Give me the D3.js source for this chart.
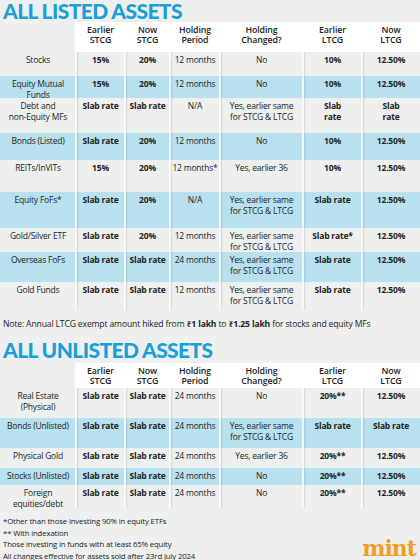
<!DOCTYPE html>
<html>
<head>
<meta charset="utf-8">
<script src="https://cdn.jsdelivr.net/npm/d3@7"></script>
<style>
  body { margin: 0; background: #eef0ef; }
  svg { display: block; font-family: "Open Sans", "Noto Sans", sans-serif; }
</style>
</head>
<body>
<div id="chart"></div>
<script>
// Column headers
const columns = ["Earlier\nSTCG", "Now\nSTCG", "Holding\nPeriod", "Holding\nChanged?", "Earlier\nLTCG", "Now\nLTCG"];
const boldColumns = [true, true, false, false, true, true];

// Listed assets
const listedAssets = ["Stocks", "Equity Mutual\nFunds", "Debt and\nnon-Equity MFs", "Bonds (Listed)", "REITs/InVITs",
  "Equity FoFs*", "Gold/Silver ETF", "Overseas FoFs", "Gold Funds"];
const listedEarlierSTCG = ["15%", "15%", "Slab rate", "Slab rate", "15%", "Slab rate", "Slab rate", "Slab rate", "Slab rate"];
const listedNowSTCG = ["20%", "20%", "Slab rate", "20%", "20%", "20%", "20%", "Slab rate", "Slab rate"];
const listedHolding = ["12 months", "12 months", "N/A", "12 months", "12 months*", "N/A", "12 months", "24 months", "12 months"];
const listedChanged = ["No", "No", "Yes, earlier same\nfor STCG & LTCG", "No", "Yes, earlier 36",
  "Yes, earlier same\nfor STCG & LTCG", "Yes, earlier same\nfor STCG & LTCG", "Yes, earlier same\nfor STCG & LTCG", "Yes, earlier same\nfor STCG & LTCG"];
const listedEarlierLTCG = ["10%", "10%", "Slab\nrate", "10%", "10%", "Slab rate", "Slab rate*", "Slab rate", "Slab rate"];
const listedNowLTCG = ["12.50%", "12.50%", "Slab\nrate", "12.50%", "12.50%", "12.50%", "12.50%", "12.50%", "12.50%"];

// Unlisted assets
const unlistedAssets = ["Real Estate\n(Physical)", "Bonds (Unlisted)", "Physical Gold", "Stocks (Unlisted)", "Foreign\nequities/debt"];
const unlistedEarlierSTCG = ["Slab rate", "Slab rate", "Slab rate", "Slab rate", "Slab rate"];
const unlistedNowSTCG = ["Slab rate", "Slab rate", "Slab rate", "Slab rate", "Slab rate"];
const unlistedHolding = ["24 months", "24 months", "24 months", "24 months", "24 months"];
const unlistedChanged = ["No", "Yes, earlier same\nfor STCG & LTCG", "Yes, earlier 36", "No", "No"];
const unlistedEarlierLTCG = ["20%**", "Slab rate", "20%**", "20%**", "20%**"];
const unlistedNowLTCG = ["12.50%", "Slab rate", "12.50%", "12.50%", "12.50%"];

const footnotes = ["*Other than those investing 90% in equity ETFs", "** With indexation",
  "Those investing in funds with at least 65% equity", "All changes effective for assets sold after 23rd July 2024"];

// Layout
const W = 420, H = 560;
const colEdges = [0, 76, 125, 170, 220, 303, 362, 420];
const listedRowEdges = [52, 76, 98, 133, 160, 192, 228, 252, 282, 310];
const unlistedRowEdges = [388, 418, 448, 468, 485, 508];
const blue = "#b8e0ee", titleBlue = "#1b9fd9", ink = "#222";

const x = d3.scaleOrdinal().domain(d3.range(7)).range(colEdges.slice(0, 7));
const xEnd = d3.scaleOrdinal().domain(d3.range(7)).range(colEdges.slice(1));
const cx = i => (x(i) + xEnd(i)) / 2;

const svg = d3.select("#chart").append("svg").attr("width", W).attr("height", H);
svg.append("rect").attr("width", W).attr("height", H).attr("fill", "#eef0ef");

function multiline(g, str, px, py, opts) {
  const t = g.append("text").attr("x", px).attr("y", py).attr("text-anchor", "middle")
    .attr("font-size", opts.size || 8.3).attr("font-weight", opts.weight || (opts.bold ? 700 : 400))
    .attr("fill", ink).attr("letter-spacing", opts.ls || -0.2);
  str.split("\n").forEach((s, k) => t.append("tspan").attr("x", px).attr("dy", k ? (opts.lh || 10.5) : 0).text(s));
}

function drawTable(top, headerBottom, rowEdges, labels, cols) {
  const g = svg.append("g");
  const bottom = rowEdges[rowEdges.length - 1];
  g.append("rect").attr("x", colEdges[1]).attr("y", top).attr("width", W - colEdges[1])
    .attr("height", headerBottom - top).attr("fill", "#fff");
  labels.forEach((_, r) => {
    if (r % 2 === 1) g.append("rect").attr("x", 0).attr("y", rowEdges[r]).attr("width", W)
      .attr("height", rowEdges[r + 1] - rowEdges[r]).attr("fill", blue);
  });
  colEdges.slice(1, 7).forEach(e => {
    g.append("line").attr("x1", e).attr("x2", e).attr("y1", top).attr("y2", bottom)
      .attr("stroke", "#fff").attr("stroke-width", 1.6);
    g.append("line").attr("x1", e + 1.5).attr("x2", e + 1.5).attr("y1", headerBottom).attr("y2", bottom)
      .attr("stroke", "#000").attr("stroke-opacity", 0.08).attr("stroke-width", 1.5);
  });
  columns.forEach((c, i) => multiline(g, c, cx(i + 1), top + 11, { size: 8.8, weight: 600, ls: -0.1, lh: 10 }));
  labels.forEach((lab, r) => {
    const y0 = rowEdges[r] + 11;
    multiline(g, lab, cx(0), y0, { size: 8.5 });
    cols.forEach((arr, i) => multiline(g, arr[r], cx(i + 1), y0, { bold: boldColumns[i], size: 8.5 }));
  });
}

function title(txt, y) {
  svg.append("text").attr("x", 3).attr("y", y).attr("font-size", 21).attr("font-weight", 900)
    .attr("font-family", "Lato, 'Open Sans', sans-serif").attr("fill", titleBlue).attr("letter-spacing", -0.6).text(txt);
}

title("ALL LISTED ASSETS", 19);
drawTable(22, 52, listedRowEdges, listedAssets,
  [listedEarlierSTCG, listedNowSTCG, listedHolding, listedChanged, listedEarlierLTCG, listedNowLTCG]);

const note = svg.append("text").attr("x", 3).attr("y", 327).attr("font-size", 8.6).attr("fill", ink).attr("letter-spacing", -0.15);
note.append("tspan").text("Note: Annual LTCG exempt amount hiked from ");
note.append("tspan").attr("font-weight", 700).text("₹1 lakh");
note.append("tspan").text(" to ");
note.append("tspan").attr("font-weight", 700).text("₹1.25 lakh");
note.append("tspan").text(" for stocks and equity MFs");

title("ALL UNLISTED ASSETS", 358);
drawTable(363, 388, unlistedRowEdges, unlistedAssets,
  [unlistedEarlierSTCG, unlistedNowSTCG, unlistedHolding, unlistedChanged, unlistedEarlierLTCG, unlistedNowLTCG]);

svg.selectAll(".fn").data(footnotes).join("text").attr("class", "fn")
  .attr("x", 3).attr("y", (d, i) => 524 + i * 11.5).attr("font-size", 7.8).attr("fill", ink)
  .attr("letter-spacing", -0.15).text(d => d);

svg.append("text").attr("x", 416).attr("y", 556).attr("text-anchor", "end").attr("font-size", 22)
  .attr("font-weight", 700).attr("font-family", "'DejaVu Serif', serif").attr("fill", "#f59a23")
  .attr("letter-spacing", -1).text("mint");
</script>
</body>
</html>
